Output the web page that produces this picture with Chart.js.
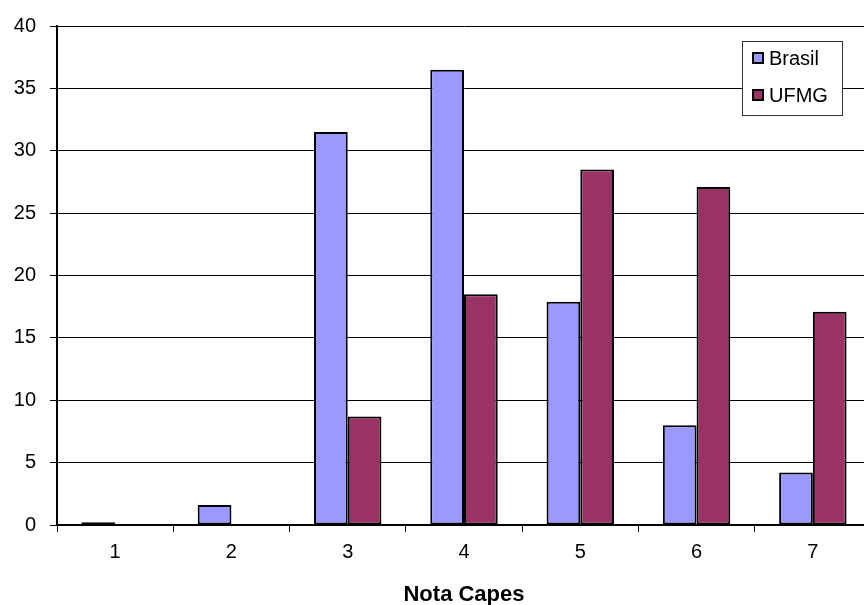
<!DOCTYPE html>
<html lang="pt">
<head>
    <meta charset="UTF-8">
    <title>Nota Capes</title>
    <script src="https://cdn.jsdelivr.net/npm/chart.js@4.4.1/dist/chart.umd.min.js"></script>
    <style>
        body { margin: 0; background: #fff; overflow: hidden; }
        /* o grafico original e cortado na borda direita */
        #wrap { width: 871px; height: 605px; position: relative; }
    </style>
</head>
<body>
    <div id="wrap"><canvas id="bar-chart"></canvas></div>
<script>
    const notas = ["1", "2", "3", "4", "5", "6", "7"]
    const brasil = [0.22, 1.6, 31.5, 36.5, 17.9, 8.0, 4.2]
    const ufmg = [0, 0, 8.7, 18.5, 28.5, 27.1, 17.1]
    const yTicks = [0, 5, 10, 15, 20, 25, 30, 35, 40]

    const fontFam = "'Liberation Sans', Arial, sans-serif"
    const tickFont = { family: fontFam, size: 20 }

    // legenda desenhada a mao, com caixa branca por cima das linhas de grade
    const boxLegend = {
        id: 'boxLegend',
        afterDraw(chart) {
            const ctx = chart.ctx
            ctx.save()
            ctx.fillStyle = '#fff'
            ctx.fillRect(742, 41, 100, 74)
            ctx.strokeStyle = '#333'
            ctx.lineWidth = 1
            ctx.strokeRect(742.5, 41.5, 100, 74)
            const items = [
                { label: 'Brasil', color: '#9999FF', y: 58 },
                { label: 'UFMG', color: '#993366', y: 95 }
            ]
            ctx.font = "20px " + fontFam
            ctx.textBaseline = 'middle'
            items.forEach(it => {
                ctx.fillStyle = it.color
                ctx.fillRect(753, it.y - 5, 10, 10)
                ctx.strokeStyle = '#000'
                ctx.lineWidth = 2
                ctx.strokeRect(753, it.y - 5, 10, 10)
                ctx.fillStyle = '#000'
                ctx.fillText(it.label, 769, it.y + 1)
            })
            ctx.restore()
        }
    }

    new Chart(document.getElementById("bar-chart"), {
        type: 'bar',
        data: {
            labels: notas,
            datasets: [
                { label: 'Brasil', data: brasil, backgroundColor: '#9999FF', borderColor: '#000', borderWidth: 2, borderSkipped: false },
                { label: 'UFMG', data: ufmg, backgroundColor: '#993366', borderColor: '#000', borderWidth: 2, borderSkipped: false }
            ]
        },
        options: {
            responsive: true,
            maintainAspectRatio: false,
            animation: false,
            layout: { padding: { top: 23, right: 0, left: 0, bottom: 0 } },
            datasets: { bar: { categoryPercentage: 0.58, barPercentage: 1 } },
            plugins: {
                legend: { display: false },
                tooltip: { enabled: false }
            },
            scales: {
                x: {
                    grid: { offset: true, drawOnChartArea: false, color: '#000', tickLength: 7, lineWidth: 1 },
                    border: { color: '#000', width: 2 },
                    ticks: { color: '#000', font: tickFont, padding: 8 },
                    title: {
                        display: true,
                        text: 'Nota Capes',
                        color: '#000',
                        font: { family: fontFam, size: 22, weight: 'bold', lineHeight: 1 },
                        padding: { top: 10, bottom: -1 }
                    },
                    afterFit: s => { s.height = 80 }
                },
                y: {
                    min: 0,
                    max: 40,
                    afterBuildTicks: s => { s.ticks = yTicks.map(v => ({ value: v })) },
                    grid: { color: '#000', tickLength: 7, lineWidth: 1 },
                    border: { color: '#000', width: 2 },
                    ticks: { color: '#000', font: tickFont, padding: 14 },
                    afterFit: s => { s.width = 57 }
                }
            }
        },
        plugins: [boxLegend]
    })
</script>
</body>
</html>
